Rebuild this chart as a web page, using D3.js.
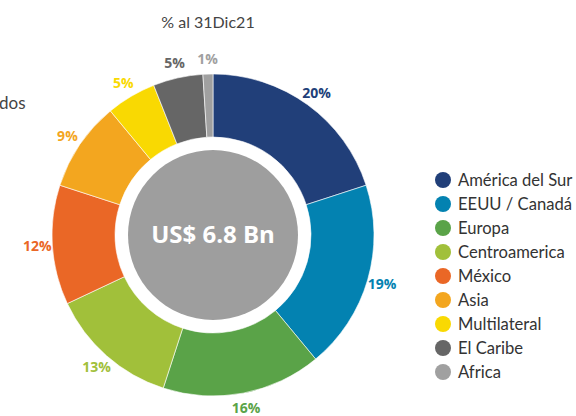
<!DOCTYPE html>
<html>
<head>
<meta charset="utf-8">
<script src="https://cdn.jsdelivr.net/npm/d3@7"></script>
<style>
  body { margin: 0; background: #fff; }
  svg { display: block; font-family: "Open Sans", sans-serif; }
</style>
</head>
<body>
<div id="chart"></div>
<script>
// regions, share of portfolio (%)
const regions = ['América del Sur', 'EEUU / Canadá', 'Europa', 'Centroamerica', 'México', 'Asia', 'Multilateral', 'El Caribe', 'Africa']
const shares = [20, 19, 16, 13, 12, 9, 5, 5, 1]
const colors = ['#213f79', '#0382b1', '#5aa348', '#a1c03a', '#ea6726', '#f3a61f', '#f9d902', '#666666', '#a0a0a0']
const subtitle = '% al 31Dic21'
const centerLabel = 'US$ 6.8 Bn'

const width = 576, height = 416
const cx = 213, cy = 235
const outerR = 161, innerR = 98, coreR = 85

const svg = d3.select('#chart').append('svg')
  .attr('width', width)
  .attr('height', height)

// cut-off bits of the surrounding slide
svg.append('text')
  .attr('x', -1).attr('y', 109)
  .attr('font-family', 'Lato')
  .attr('font-size', 17).attr('fill', '#444')
  .text('dos')

svg.append('text')
  .attr('x', 208).attr('y', 28)
  .attr('text-anchor', 'middle')
  .attr('font-family', 'Lato')
  .attr('font-size', 16).attr('fill', '#444')
  .text(subtitle)

const data = regions.map((name, i) => ({ name, value: shares[i], color: colors[i] }))

const pie = d3.pie()
  .value(d => d.value)
  .sort(null)

const arcs = pie(data)

const arc = d3.arc().innerRadius(innerR).outerRadius(outerR)
const labelArc = d3.arc().innerRadius(176).outerRadius(176)

const g = svg.append('g').attr('transform', `translate(${cx},${cy})`)

g.selectAll('path.slice')
  .data(arcs)
  .enter().append('path')
  .attr('class', 'slice')
  .attr('d', arc)
  .attr('fill', d => d.data.color)
  .attr('stroke', '#fff')
  .attr('stroke-width', 0.6)

g.append('circle')
  .attr('r', coreR)
  .attr('fill', '#9e9e9e')

g.append('text')
  .attr('text-anchor', 'middle')
  .attr('dy', '0.35em')
  .attr('font-size', 24)
  .attr('font-weight', 'bold')
  .attr('fill', '#fff')
  .text(centerLabel)

g.selectAll('text.pct')
  .data(arcs)
  .enter().append('text')
  .attr('class', 'pct')
  .attr('transform', d => `translate(${labelArc.centroid(d)})`)
  .attr('text-anchor', 'middle')
  .attr('dy', '0.35em')
  .attr('font-size', 14)
  .attr('font-weight', 'bold')
  .attr('fill', d => d.data.color)
  .text(d => d.data.value + '%')

// legend
const legendY = d3.scalePoint()
  .domain(regions)
  .range([180, 372])

const legend = svg.append('g').attr('class', 'legend')
  .selectAll('g')
  .data(data)
  .enter().append('g')
  .attr('transform', d => `translate(443,${legendY(d.name)})`)

legend.append('circle')
  .attr('r', 8)
  .attr('fill', d => d.color)

legend.append('text')
  .attr('x', 15)
  .attr('dy', '0.35em')
  .attr('font-family', 'Lato')
  .attr('font-size', 16.6)
  .attr('fill', '#333')
  .text(d => d.name)
</script>
</body>
</html>
